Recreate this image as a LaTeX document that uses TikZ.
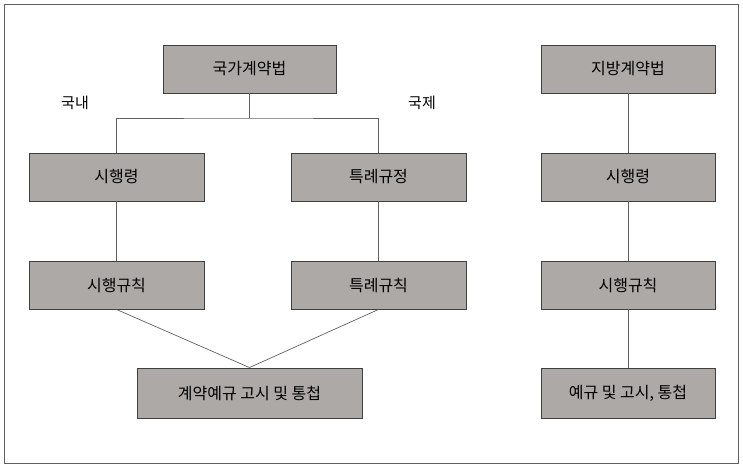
\documentclass[tikz,border=0pt]{standalone}
\usepackage{fontspec}
\newfontfamily\kr{Noto Sans CJK KR}[BoldFont={* Medium}]
\definecolor{boxfill}{HTML}{ADA9A7}
\definecolor{boxline}{HTML}{404040}
\definecolor{conn}{HTML}{606060}
\begin{document}
\begin{tikzpicture}[x=1pt,y=-1pt,
  box/.style={draw=boxline,fill=boxfill,line width=0.9pt,inner sep=0pt,font=\kr\fontsize{16}{18}\selectfont},
  lbl/.style={font=\kr\fontsize{15}{17}\selectfont,inner sep=0pt},
  link/.style={draw=conn,line width=0.7pt}]
\useasboundingbox (0,0) rectangle (743,468);
\draw[draw=conn,line width=0.8pt] (4.5,4.5) rectangle (738.5,463.5);
\newcommand\bx[6]{\node[box,minimum width=#4-#2,minimum height=#5-#3] (#1) at ({(#2+#4)/2},{(#3+#5)/2}) {#6};}
\bx{gk}{163}{45}{336}{93}{국가계약법}
\bx{jb}{541}{45}{715}{93}{지방계약법}
\bx{sl}{29}{153}{204}{201}{시행령}
\bx{tr}{291}{153}{466}{201}{특례규정}
\bx{sr}{541}{153}{715}{201}{시행령}
\bx{gl}{29}{261}{204}{309}{시행규칙}
\bx{tk}{291}{261}{466}{309}{특례규칙}
\bx{gr}{541}{261}{715}{309}{시행규칙}
\bx{ye}{137}{368}{362}{418}{계약예규 고시 및 통첩}
\bx{yr}{541}{368}{715}{418}{예규 및 고시, 통첩}
\node[lbl] (kn) at (75,103) {국내};
\node[lbl] (kj) at (422,103) {국제};
\coordinate (j) at (249.5,118);
\draw[link] (gk.south) -- (j);
\draw[link] (sl.north) |- (j) -| (tr.north);
\draw[link] (sl) -- (gl);
\draw[link] (tr) -- (tk);
\draw[link] (gl.south) -- (ye.north);
\draw[link] (tk.south) -- (ye.north);
\draw[link] (jb) -- (sr);
\draw[link] (sr) -- (gr);
\draw[link] (gr) -- (yr);
\end{tikzpicture}
\end{document}
